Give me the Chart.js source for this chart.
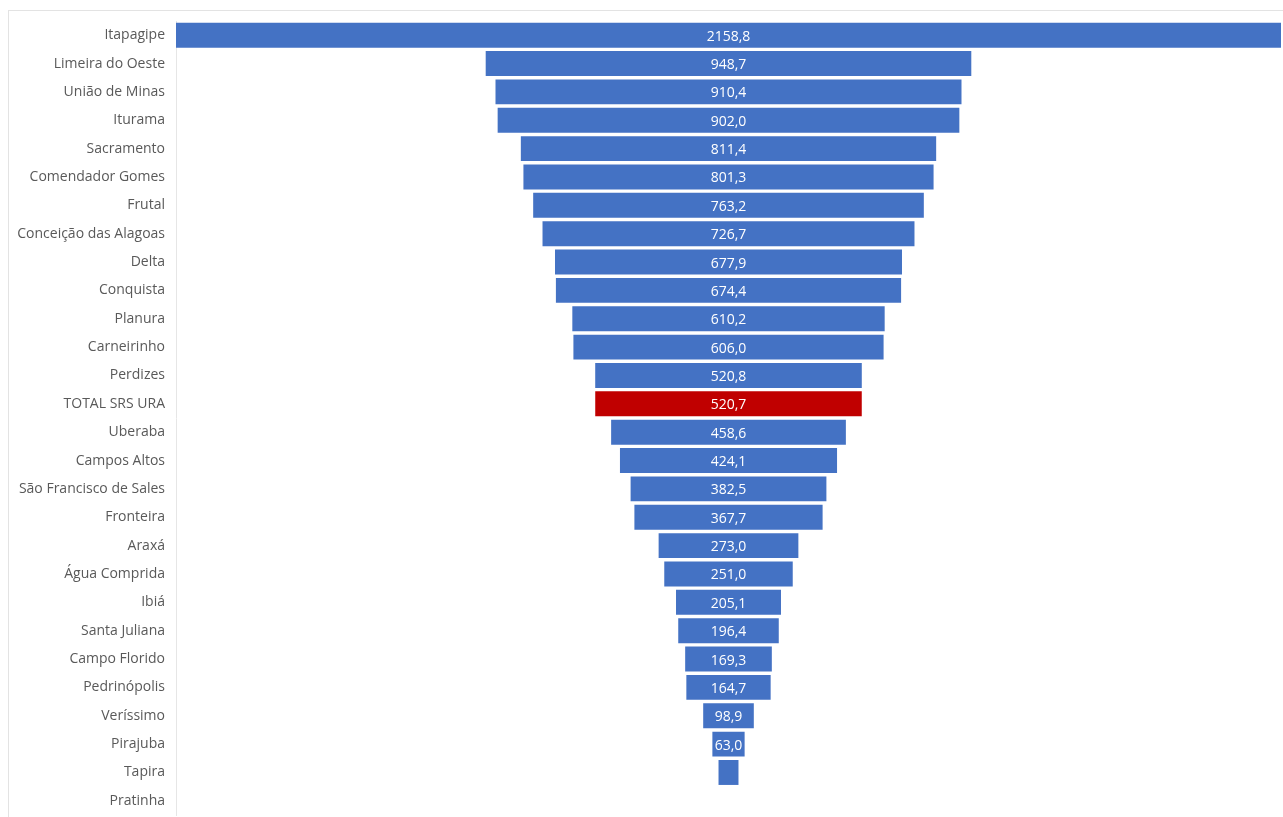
<!DOCTYPE html>
<html>
<head>
<meta charset="utf-8">
<script src="https://cdn.jsdelivr.net/npm/chart.js@4.4.1/dist/chart.umd.min.js"></script>
<style>
  html, body { margin: 0; padding: 0; background: #ffffff; overflow: hidden; }
  #frame { position: absolute; left: 8px; top: 10px; width: 1290px; height: 820px; border: 1px solid #e3e3e3; box-sizing: border-box; }
  #funnel { position: absolute; left: 0; top: 0; }
</style>
</head>
<body>
<div id="frame"></div>
<canvas id="funnel" width="1283" height="817"></canvas>
<script>
// Municipalities, ordered from largest to smallest value
const municipios = [
  "Itapagipe", "Limeira do Oeste", "União de Minas", "Iturama", "Sacramento",
  "Comendador Gomes", "Frutal", "Conceição das Alagoas", "Delta", "Conquista",
  "Planura", "Carneirinho", "Perdizes", "TOTAL SRS URA", "Uberaba",
  "Campos Altos", "São Francisco de Sales", "Fronteira", "Araxá", "Água Comprida",
  "Ibiá", "Santa Juliana", "Campo Florido", "Pedrinópolis", "Veríssimo",
  "Pirajuba", "Tapira", "Pratinha"
];
const valores = [
  2158.8, 948.7, 910.4, 902.0, 811.4,
  801.3, 763.2, 726.7, 677.9, 674.4,
  610.2, 606.0, 520.8, 520.7, 458.6,
  424.1, 382.5, 367.7, 273.0, 251.0,
  205.1, 196.4, 169.3, 164.7, 98.9,
  63.0, 39.0, 0
];
const destaque = "TOTAL SRS URA";

const AZUL = "#4472C4";
const VERMELHO = "#C00000";

// Each bar is centred on zero: [-v/2, +v/2]
const barras = valores.map(v => [-v / 2, v / 2]);
const cores = municipios.map(m => m === destaque ? VERMELHO : AZUL);
const metade = Math.max(...valores) / 2;

const fmt = v => v.toFixed(1).replace(".", ",");

// Value labels drawn in the middle of each bar when they fit
const rotulos = {
  id: "rotulos",
  afterDatasetsDraw(chart) {
    const ctx = chart.ctx;
    const meta = chart.getDatasetMeta(0);
    ctx.save();
    ctx.font = "14px 'Open Sans', sans-serif";
    ctx.fillStyle = "#ffffff";
    ctx.textAlign = "center";
    ctx.textBaseline = "middle";
    meta.data.forEach((bar, i) => {
      const v = valores[i];
      if (!v) return;
      const txt = fmt(v);
      const w = Math.abs(bar.x - bar.base);
      if (ctx.measureText(txt).width > w + 2) return;
      ctx.fillText(txt, (bar.x + bar.base) / 2, bar.y + 1.5);
    });
    ctx.restore();
  }
};

new Chart(document.getElementById("funnel"), {
  type: "bar",
  data: {
    labels: municipios,
    datasets: [{
      data: barras,
      backgroundColor: cores,
      borderWidth: 0,
      barPercentage: 0.88,
      categoryPercentage: 1.0
    }]
  },
  options: {
    indexAxis: "y",
    responsive: false,
    animation: false,
    layout: { padding: { top: 21, bottom: 2, left: 0, right: 2 } },
    plugins: {
      legend: { display: false },
      tooltip: { enabled: false }
    },
    scales: {
      x: {
        display: false,
        min: -metade,
        max: metade
      },
      y: {
        grid: { display: false, drawTicks: false },
        border: { display: true, color: "#e6e6e6", width: 1 },
        ticks: {
          color: "#595959",
          padding: 11,
          font: { family: "'Open Sans', sans-serif", size: 14 }
        },
        afterFit(scale) {
          scale.width = 176;
          // labels sit beside the bars, so no extra room above/below the rows
          scale.paddingTop = 0;
          scale.paddingBottom = 0;
        }
      }
    }
  },
  plugins: [rotulos]
});
</script>
</body>
</html>
